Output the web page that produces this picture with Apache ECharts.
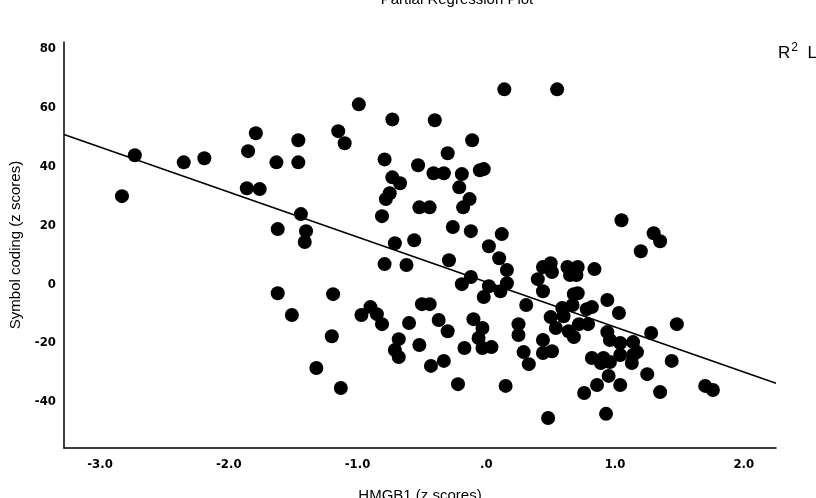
<!DOCTYPE html>
<html><head><meta charset="utf-8">
<script src="https://cdn.jsdelivr.net/npm/echarts@6/dist/echarts.min.js"></script>
<style>html,body{margin:0;padding:0;background:#fff}#c{width:816px;height:498px}</style>
</head><body><div id="c"></div>
<script>
// HMGB1 (z scores)
const hmgb1 = [
-2.83,-2.73,-2.35,-2.19,-1.85,-1.79,-1.86,-1.76,-1.63,-1.46,-1.46,-1.44,-1.40,-1.41,-1.62,-1.62,-1.51,-1.32,
-1.19,-1.20,-1.13,-1.15,-1.10,-0.99,-0.97,-0.90,-0.85,-0.81,-0.79,-0.81,-0.79,-0.73,-0.67,-0.75,-0.78,-0.73,
-0.71,-0.68,-0.71,-0.68,-0.62,-0.60,-0.56,-0.53,-0.52,-0.44,-0.52,-0.50,-0.44,-0.43,-0.40,-0.41,-0.33,-0.37,
-0.33,-0.30,-0.30,-0.26,-0.29,-0.21,-0.19,-0.22,-0.19,-0.18,-0.13,-0.17,-0.11,-0.12,-0.12,-0.10,-0.05,-0.02,
-0.06,-0.02,-0.03,-0.03,0.02,0.04,0.02,
0.10,0.12,0.14,0.16,0.16,0.11,0.15,0.25,0.25,0.31,0.29,0.33,0.40,0.44,0.50,0.51,0.44,0.44,0.44,0.51,0.48,
0.50,0.55,0.54,0.59,0.60,0.63,0.71,0.65,0.70,0.84,0.68,0.71,0.64,0.68,0.72,0.67,0.78,0.82,0.79,0.94,1.03,
0.94,0.96,1.04,1.14,1.28,1.48,0.82,0.91,0.96,1.04,1.14,1.17,1.13,0.89,0.95,0.86,0.76,1.04,1.25,1.35,1.44,
1.70,1.76,0.93,1.20,1.30,1.35,1.05
];
// Symbol coding (z scores)
const symbolCoding = [
29.9,43.8,41.4,42.8,45.2,51.3,32.6,32.3,41.4,48.9,41.4,23.8,18.0,14.3,18.7,-3.1,-10.5,-28.5,
-3.4,-17.7,-35.3,52.0,47.9,61.1,-10.5,-7.8,-10.2,-13.6,6.8,23.1,42.4,36.3,34.3,30.9,28.9,56.0,
13.9,-18.7,-22.4,-24.8,6.5,-13.2,14.9,40.4,26.1,26.1,-20.7,-6.8,-6.8,-27.8,55.7,37.7,37.7,-12.2,
-26.1,44.5,-16.0,19.4,8.1,32.9,37.4,-34.0,0.0,26.1,28.9,-21.7,48.9,18.0,2.4,-11.9,38.7,39.1,
-18.3,-4.4,-14.9,-21.7,12.9,-21.4,-0.7,
8.8,17.0,66.2,4.8,0.3,-2.4,-34.6,-13.6,-17.3,-7.1,-23.1,-27.2,1.7,5.8,7.1,4.1,-2.4,-19.0,-23.4,-22.8,-45.5,
-11.2,66.2,-14.9,-8.1,-10.9,5.8,5.8,3.1,3.1,5.1,-3.4,-3.1,-16.0,-18.0,-13.6,-7.1,-8.5,-7.8,-13.6,-5.4,-9.8,
-16.3,-19.0,-20.0,-19.7,-16.6,-13.6,-25.1,-25.1,-26.5,-24.1,-24.1,-23.1,-26.8,-26.8,-31.2,-34.3,-37.0,-34.3,-30.6,-36.7,-26.1,
-34.6,-36.0,-44.1,11.2,17.3,14.6,21.7
];
const xTicks = [-3, -2, -1, 0, 1, 2];
const yTicks = [-40, -20, 0, 20, 40, 60, 80];
const xRange = [-3.28, 2.25];
const yRange = [-55.7, 82.3];
const fitIntercept = 0.74;
const fitSlope = -15.29;

const points = hmgb1.map((x, i) => [x, symbolCoding[i]]);
const fitLine = xRange.map(x => [x, fitIntercept + fitSlope * x]);

const labelFont = "'Liberation Sans Narrow','DejaVu Sans Condensed','Liberation Sans',sans-serif";
const textFont = "'Liberation Sans',Arial,sans-serif";
const chart = echarts.init(document.getElementById('c'), null, {renderer: 'canvas'});
chart.setOption({
  backgroundColor: '#ffffff',
  animation: false,
  title: {
    text: 'Partial Regression Plot',
    left: 452, top: -13, textAlign: 'center',
    textStyle: {fontFamily: textFont, fontSize: 15, fontWeight: 'normal', color: '#000'}
  },
  graphic: [{
    type: 'text', left: 778, top: 42,
    style: {
      text: '{a|R}{b|2}{a|  Linear = 0.185}',
      rich: {
        a: {fontFamily: textFont, fontSize: 17, color: '#000', fill: '#000'},
        b: {fontFamily: textFont, fontSize: 12, color: '#000', fill: '#000', verticalAlign: 'top', padding: [0, 0, 10, 1]}
      }
    }
  }],
  grid: {left: 64, right: 40, top: 42, bottom: 50, containLabel: false, outerBoundsMode: 'none'},
  xAxis: {
    type: 'value', min: xRange[0], max: xRange[1],
    name: 'HMGB1 (z scores)', nameLocation: 'middle', nameGap: 40,
    nameTextStyle: {fontFamily: textFont, fontSize: 15, color: '#000'},
    axisLine: {show: true, onZero: false, lineStyle: {color: '#000', width: 1.5}},
    axisTick: {show: false},
    splitLine: {show: false},
    axisLabel: {
      customValues: xTicks, margin: 10, color: '#000', fontSize: 13, fontWeight: 'bold', fontFamily: labelFont,
      formatter: v => v === 0 ? '.0' : v.toFixed(1)
    }
  },
  yAxis: {
    type: 'value', min: yRange[0], max: yRange[1],
    name: 'Symbol coding (z scores)', nameLocation: 'middle', nameGap: 41, nameRotate: 90,
    nameTextStyle: {fontFamily: textFont, fontSize: 15, color: '#000'},
    axisLine: {show: true, onZero: false, lineStyle: {color: '#000', width: 1.5}},
    axisTick: {show: false},
    splitLine: {show: false},
    axisLabel: {
      customValues: yTicks, margin: 8, color: '#000', fontSize: 13, fontWeight: 'bold', fontFamily: labelFont,
      formatter: v => String(v)
    }
  },
  series: [
    {
      type: 'line', data: fitLine, showSymbol: false, symbol: 'none',
      lineStyle: {color: '#000', width: 1.6}, z: 2, silent: true
    },
    {
      type: 'scatter', data: points, symbol: 'circle', symbolSize: 14,
      itemStyle: {color: '#000', opacity: 1}, z: 3
    }
  ]
});
</script>
</body></html>
